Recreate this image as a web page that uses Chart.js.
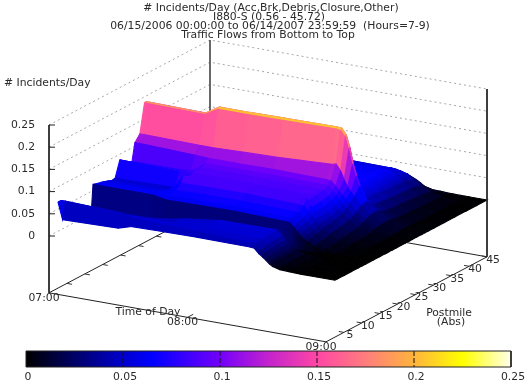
<!DOCTYPE html>
<html>
<head>
<meta charset="utf-8">
<title>Incidents per day surface</title>
<script src="https://cdn.jsdelivr.net/npm/chart.js@4"></script>
<style>
body { margin: 0; background: #fff; }
canvas { display: block; }
</style>
</head>
<body>
<canvas id="chart" width="528" height="383"></canvas>
<script>
var titleLines = [
    '# Incidents/Day (Acc,Brk,Debris,Closure,Other)',
    'I880-S (0.56 - 45.72)',
    '06/15/2006 00:00:00 to 06/14/2007 23:59:59  (Hours=7-9)',
    'Traffic Flows from Bottom to Top'
];
var zTicks = [0, 0.05, 0.1, 0.15, 0.2, 0.25];
var postmileTicks = [5, 10, 15, 20, 25, 30, 35, 40, 45];
var timeTicks = [0, 60, 120];
var timeTickLabels = ['07:00', '08:00', '09:00'];
var barTicks = [0, 0.05, 0.1, 0.15, 0.2, 0.25];

// palette stops
var paletteAt = [0, 0.05, 0.065, 0.1, 0.125, 0.15, 0.175, 0.2, 0.225, 0.25];
var paletteRgb = [
    [0, 0, 0], [0, 0, 205], [0, 0, 255], [115, 0, 250], [195, 35, 205],
    [255, 70, 165], [255, 125, 125], [255, 180, 60], [255, 255, 0], [255, 255, 235]
];

// minutes after 07:00
var minutes = [0, 2, 26, 32, 45, 60, 83, 85, 87, 88.5, 90, 91.5, 93, 96, 100, 105, 112, 120];
var postmiles = [2.5, 3.3, 5, 7, 9, 10, 11, 11.8, 12.3, 13, 15, 16.5, 17, 17.5, 18.5, 19.8, 22, 23.2, 24, 25.4, 26.7, 27, 27.6, 28.5, 30, 33, 36, 39, 42, 45];

// one list per time, values follow postmiles
var z0700 = [.066, .066, .05, .035, .02, .01, .002, 0, .064, .062, .058, .054, .052, .05, .052, .087, .074, .069, .108, .122, .186, .188, .07, .06, .06, .06, .06, .06, .05, .03];
var z0702 = [.028, .066, .05, .035, .02, .01, .002, 0, .064, .062, .058, .054, .052, .05, .052, .087, .074, .069, .108, .122, .186, .188, .07, .06, .06, .06, .06, .06, .05, .03];
var z0726 = [.031, .062, .05, .04, .025, .012, .002, 0, .064, .064, .06, .056, .054, .052, .054, .085, .075, .07, .104, .12, .184, .186, .07, .06, .06, .06, .06, .06, .05, .03];
var z0732 = [.04, .055, .05, .04, .03, .018, .004, 0, .058, .064, .068, .078, .092, .086, .085, .087, .09, .094, .102, .12, .201, .205, .07, .06, .06, .06, .06, .06, .05, .03];
var z0745 = [.041, .052, .05, .048, .042, .02, .004, 0, .059, .065, .07, .079, .092, .086, .085, .087, .09, .094, .102, .122, .201, .205, .071, .061, .061, .061, .061, .06, .051, .03];
var z0800 = [.042, .05, .052, .054, .052, .025, .004, 0, .06, .066, .07, .08, .092, .086, .085, .087, .09, .094, .103, .124, .202, .206, .072, .062, .062, .062, .062, .061, .052, .03];
var z0823 = [.041, .046, .049, .053, .053, .028, .004, 0, .057, .063, .067, .076, .089, .083, .083, .085, .088, .093, .101, .13, .204, .207, .082, .068, .068, .066, .065, .062, .051, .026];
var z0825 = [.04, .045, .048, .052, .053, .028, .004, 0, .056, .062, .066, .075, .088, .082, .082, .084, .087, .092, .1, .132, .202, .206, .085, .07, .07, .068, .066, .062, .05, .024];
var z0827 = [.03, .036, .038, .041, .042, .024, .004, 0, .047, .052, .056, .064, .075, .07, .07, .072, .076, .082, .09, .118, .188, .192, .08, .068, .066, .065, .063, .06, .048, .022];
var z08285 = [.024, .029, .031, .033, .034, .02, .003, 0, .038, .044, .048, .055, .064, .06, .06, .062, .067, .073, .081, .1, .16, .165, .078, .064, .062, .06, .058, .056, .046, .019];
var z0830 = [.018, .022, .024, .026, .027, .016, .003, 0, .03, .036, .04, .046, .052, .05, .05, .052, .058, .064, .072, .085, .127, .13, .075, .06, .058, .056, .054, .052, .044, .016];
var z08315 = [.011, .015, .017, .019, .02, .012, .002, 0, .024, .029, .033, .038, .043, .042, .042, .044, .05, .056, .064, .075, .102, .104, .068, .055, .053, .05, .048, .046, .039, .011];
var z0833 = [.006, .01, .012, .014, .015, .009, .002, 0, .019, .023, .026, .03, .034, .034, .034, .037, .042, .048, .056, .066, .081, .082, .06, .05, .048, .045, .042, .04, .034, .006];
var z0836 = [.002, .004, .005, .006, .007, .004, .001, 0, .011, .014, .016, .019, .022, .022, .023, .025, .029, .034, .04, .048, .052, .052, .045, .038, .035, .032, .03, .028, .024, .002];
var z0840 = [.001, .002, .002, .003, .003, .002, .001, 0, .005, .007, .008, .01, .012, .012, .013, .015, .018, .022, .026, .03, .032, .032, .03, .026, .022, .02, .018, .016, .012, .001];
var z0845 = [0, .001, .001, .001, .001, .001, 0, 0, .002, .003, .003, .004, .005, .006, .006, .007, .009, .011, .013, .015, .016, .016, .015, .013, .011, .01, .008, .007, .005, 0];
var z0852 = [0, 0, 0, 0, 0, 0, 0, 0, .001, .001, .001, .001, .001, .002, .002, .002, .003, .003, .004, .004, .005, .005, .004, .004, .003, .002, .002, .002, .001, 0];
var z0900 = [0, 0, 0, 0, 0, 0, 0, 0, 0, 0, 0, 0, 0, 0, 0, 0, 0, 0, 0, 0, 0, 0, 0, 0, 0, 0, 0, 0, 0, 0];
var surface = [z0700, z0702, z0726, z0732, z0745, z0800, z0823, z0825, z0827, z08285, z0830, z08315, z0833, z0836, z0840, z0845, z0852, z0900];

var zFloor = -0.128;

var ctx = document.getElementById('chart').getContext('2d');

// view of the box: canvas position for time, postmile, value
function project(t, p, z) {
    return {
        x: 49 + 277 * t / 120 + 161 * p / 45,
        y: 236 + 49 * t / 120 - 85 * p / 45 - 444 * z
    };
}

function barX(v) {
    return 26 + 485 * v / 0.25;
}

function paletteColor(v) {
    var i = 0;
    while (i < paletteAt.length - 2 && v > paletteAt[i + 1]) i++;
    var f = (v - paletteAt[i]) / (paletteAt[i + 1] - paletteAt[i]);
    f = Math.max(0, Math.min(1, f));
    var rgb = paletteRgb[i].map(function(c, k) {
        return Math.round(c + (paletteRgb[i + 1][k] - c) * f);
    });
    return 'rgb(' + rgb.join(',') + ')';
}

var datasets = [];

function addLine(points, color, width, dash) {
    datasets.push({
        data: points,
        showLine: true,
        fill: false,
        borderColor: color,
        borderWidth: width,
        borderDash: dash || [],
        pointRadius: 0,
        tension: 0
    });
}

function addCell(points, color, edge) {
    datasets.push({
        data: points,
        showLine: true,
        fill: 'shape',
        backgroundColor: color,
        borderColor: color,
        borderWidth: edge,
        pointRadius: 0,
        tension: 0
    });
}

// grid and back of the box, behind the surface
zTicks.forEach(function(z) {
    addLine([project(0, 0, z), project(0, 45, z), project(120, 45, z)], '#a8a8a8', 1, [2, 3]);
});
addLine([project(0, 45, 0.25), project(0, 45, zFloor)], '#555', 1);
addLine([project(0, 0, zFloor), project(0, 45, zFloor), project(120, 45, zFloor)], '#222', 1);

// front edges and ticks on the floor
addLine([project(0, 0, zFloor), project(120, 0, zFloor), project(120, 45, zFloor)], '#222', 1);
addLine([project(0, 0, 0.25), project(0, 0, zFloor)], '#222', 1);
zTicks.forEach(function(z) {
    var q = project(0, 0, z);
    addLine([q, { x: q.x + 6, y: q.y }], '#222', 1);
});
postmileTicks.forEach(function(p) {
    addLine([project(0, p, zFloor), project(2.2, p, zFloor)], '#333', 1);
    addLine([project(120, p, zFloor), project(117.8, p, zFloor)], '#333', 1);
});
addLine([project(60, 0, zFloor), project(60, 1.6, zFloor)], '#333', 1);

// surface, far cells first
for (var i = 0; i < minutes.length - 1; i++) {
    for (var j = postmiles.length - 2; j >= 0; j--) {
        var a = surface[i][j], b = surface[i][j + 1], c = surface[i + 1][j + 1], d = surface[i + 1][j];
        addCell([
            project(minutes[i], postmiles[j], a),
            project(minutes[i], postmiles[j + 1], b),
            project(minutes[i + 1], postmiles[j + 1], c),
            project(minutes[i + 1], postmiles[j], d),
            project(minutes[i], postmiles[j], a)
        ], paletteColor((a + b + c + d) / 4), 1.1);
    }
}

// right hand upright stays on top
addLine([project(120, 45, 0.25), project(120, 45, zFloor)], '#222', 1);

// colour bar
var barFill = ctx.createLinearGradient(barX(0), 0, barX(0.25), 0);
paletteAt.forEach(function(v, k) {
    barFill.addColorStop(v / 0.25, 'rgb(' + paletteRgb[k].join(',') + ')');
});
addCell([
    { x: barX(0), y: 351 }, { x: barX(0.25), y: 351 }, { x: barX(0.25), y: 367 }, { x: barX(0), y: 367 }, { x: barX(0), y: 351 }
], barFill, 0);
barTicks.slice(1, -1).forEach(function(v) {
    addLine([{ x: barX(v), y: 351 }, { x: barX(v), y: 367 }], '#111', 1, [5, 2]);
});
addLine([{ x: barX(0), y: 351 }, { x: barX(0.25), y: 351 }, { x: barX(0.25), y: 367 }, { x: barX(0), y: 367 }, { x: barX(0), y: 351 }], '#222', 1);

// first dataset is painted last in Chart.js
datasets.reverse();

var labelsPlugin = {
    id: 'labels',
    afterDraw: function(chart) {
        var c = chart.ctx;
        var sx = chart.scales.x, sy = chart.scales.y;
        function put(text, x, y, align) {
            c.textAlign = align || 'center';
            c.fillText(text, sx.getPixelForValue(x), sy.getPixelForValue(y));
        }
        c.save();
        c.fillStyle = '#2a2a2a';
        c.textBaseline = 'middle';
        c.font = '10.8px "DejaVu Sans"';
        put(titleLines[0], 271, 8);
        put(titleLines[1], 269, 17);
        put(titleLines[2], 270, 26);
        put(titleLines[3], 268, 35);
        put('# Incidents/Day', 4, 83, 'left');
        zTicks.forEach(function(z) {
            put(String(z), 35, project(0, 0, z).y, 'right');
        });
        timeTicks.forEach(function(t, i) {
            var q = project(t, 0, zFloor);
            put(timeTickLabels[i], q.x - 5, q.y + 5);
        });
        put('Time of Day', 148, 312);
        postmileTicks.forEach(function(p) {
            var q = project(120, p, zFloor);
            put(String(p), q.x + 6, q.y + 3);
        });
        put('Postmile', 449, 313);
        put('(Abs)', 451, 322);
        barTicks.forEach(function(v) {
            put(String(v), barX(v) + 2, 377);
        });
        c.restore();
    }
};

new Chart(ctx, {
    type: 'scatter',
    data: { datasets: datasets },
    options: {
        responsive: false,
        animation: false,
        events: [],
        layout: { padding: 0 },
        plugins: { legend: { display: false }, tooltip: { enabled: false }, title: { display: false } },
        scales: {
            x: { type: 'linear', min: 0, max: 528, display: false },
            y: { type: 'linear', min: 0, max: 383, reverse: true, display: false }
        }
    },
    plugins: [labelsPlugin]
});
</script>
</body>
</html>
